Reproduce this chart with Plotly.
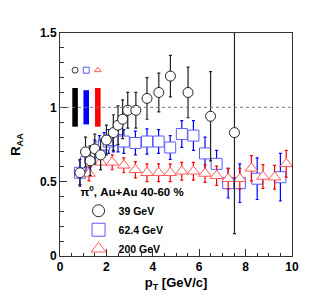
import plotly.graph_objects as go

# 39 GeV (black circles)
pt_39 = [0.86, 1.1, 1.3, 1.5, 1.75, 2.0, 2.3, 2.5, 2.7, 2.92, 3.27, 3.75, 4.26, 4.76, 5.52, 6.49, 7.52]
raa_39 = [0.56, 0.70, 0.64, 0.72, 0.68, 0.78, 0.83, 0.88, 0.92, 0.98, 0.98, 1.06, 1.10, 1.21, 1.10, 0.94, 0.83]
err_39 = [0.09, 0.10, 0.10, 0.10, 0.10, 0.10, 0.12, 0.13, 0.13, 0.12, 0.12, 0.14, 0.13, 0.14, 0.17, 0.30, 0.68]

# 62.4 GeV (blue squares)
pt_62 = [0.86, 1.12, 1.3, 1.5, 1.7, 1.9, 2.1, 2.3, 2.5, 2.75, 3.25, 3.75, 4.25, 4.75, 5.25, 5.75, 6.25, 6.75, 7.25, 7.75, 8.5, 9.5]
raa_62 = [0.56, 0.63, 0.66, 0.70, 0.73, 0.75, 0.77, 0.78, 0.78, 0.77, 0.76, 0.77, 0.77, 0.73, 0.82, 0.81, 0.69, 0.62, 0.49, 0.49, 0.52, 0.53]
err_62 = [0.08, 0.08, 0.08, 0.08, 0.08, 0.08, 0.08, 0.08, 0.08, 0.08, 0.08, 0.085, 0.08, 0.08, 0.09, 0.10, 0.11, 0.09, 0.10, 0.13, 0.14, 0.16]

# 200 GeV (red triangles)
pt_200 = [1.25, 1.75, 2.25, 2.75, 3.25, 3.75, 4.25, 4.75, 5.25, 5.75, 6.25, 6.75, 7.25, 7.75, 8.25, 8.75, 9.25, 9.75]
raa_200 = [0.555, 0.63, 0.63, 0.61, 0.58, 0.56, 0.56, 0.56, 0.57, 0.57, 0.555, 0.54, 0.52, 0.52, 0.59, 0.535, 0.53, 0.62]
err_200 = [0.05, 0.05, 0.05, 0.05, 0.055, 0.06, 0.06, 0.06, 0.06, 0.06, 0.06, 0.065, 0.07, 0.07, 0.085, 0.08, 0.08, 0.09]

# global normalization uncertainties
norm_x = [0.65, 1.13, 1.63]
norm_err = [0.13, 0.115, 0.13]
norm_colors = ["black", "blue", "red"]
norm_marker_y = [1.25, 1.25, 1.25]
norm_symbols = ["circle", "square", "triangle-up"]
norm_line_colors = ["#333333", "#5a5aff", "#ff5a5a"]

labels = ["39 GeV", "62.4 GeV", "200 GeV"]
x_ticks = [0, 2, 4, 6, 8, 10]
y_ticks = [0, 0.5, 1, 1.5]

FONT = "Liberation Sans"

fig = go.Figure()

# normalization boxes
fig.add_trace(go.Bar(
    x=norm_x, y=[2 * e for e in norm_err], base=[1 - e for e in norm_err],
    width=0.24, marker=dict(color=norm_colors, line=dict(width=0)),
    showlegend=False, hoverinfo="skip"))

# small markers above the boxes
fig.add_trace(go.Scatter(
    x=norm_x, y=norm_marker_y, mode="markers",
    marker=dict(symbol=norm_symbols, size=6, color="rgba(0,0,0,0)",
                line=dict(color=norm_line_colors, width=1)),
    showlegend=False, hoverinfo="skip"))

series = [
    (pt_62, raa_62, err_62, "square", "#5a5aff", "blue", 11),
    (pt_200, raa_200, err_200, "triangle-up", "#ff5a5a", "red", 11),
    (pt_39, raa_39, err_39, "circle", "#222222", "#222222", 10),
]
for x, y, e, sym, mcol, ecol, size in series:
    fig.add_trace(go.Scatter(
        x=x, y=y, mode="markers",
        marker=dict(symbol=sym, size=size, color="white", line=dict(color=mcol, width=1)),
        error_y=dict(type="data", array=e, visible=True, color=ecol, thickness=1.2, width=1.5),
        showlegend=False))

# legend entries
for lab, sym, mcol, size in zip(labels, ["circle", "square", "triangle-up"],
                                ["#222222", "#5a5aff", "#ff5a5a"], [12, 13, 13]):
    fig.add_trace(go.Scatter(
        x=[None], y=[None], mode="markers", name=lab,
        marker=dict(symbol=sym, size=size, color="white", line=dict(color=mcol, width=1))))

fig.add_hline(y=1, line=dict(color="#777777", width=1, dash="dot"))

axis_common = dict(
    showline=True, linecolor="#333333", linewidth=1, mirror=True,
    ticks="inside", showgrid=False, zeroline=False, automargin=False,
    tickfont=dict(family=FONT, size=12, color="black", weight="bold"),
)

# the page body adds an 8px offset; the figure is sized to fit inside the window
fig.update_layout(
    width=311, height=284,
    margin=dict(l=52, r=27, t=25, b=36, autoexpand=False),
    paper_bgcolor="white", plot_bgcolor="white",
    barmode="overlay",
    xaxis=dict(range=[0, 10], tickvals=x_ticks, ticklen=7, tickcolor="#333333",
               minor=dict(dtick=0.5, ticklen=3.5, ticks="inside", tickcolor="#333333"),
               title=dict(text="p<sub>T</sub> [GeV/c]", standoff=10,
                          font=dict(family=FONT, size=13, color="black", weight="bold")),
               **axis_common),
    yaxis=dict(range=[0, 1.5], tickvals=y_ticks, ticktext=["0", "0.5", "1", "1.5"],
               ticklen=7, tickcolor="#333333",
               minor=dict(dtick=0.1, ticklen=3.5, ticks="inside", tickcolor="#333333"),
               title=dict(text="R<sub>AA</sub>", standoff=21,
                          font=dict(family=FONT, size=13, color="black", weight="bold")),
               **axis_common),
    legend=dict(x=0.08, y=0.335, xanchor="left", yanchor="top",
                bgcolor="rgba(0,0,0,0)", borderwidth=0,
                title=dict(text="π<sup>0</sup>, Au+Au 40-60 %",
                           font=dict(family=FONT, size=11.5, color="black", weight="bold")),
                font=dict(family=FONT, size=10.5, color="black", weight="bold"),
                tracegroupgap=0, itemsizing="trace"),
    showlegend=True,
)

fig.write_html("out.html")
